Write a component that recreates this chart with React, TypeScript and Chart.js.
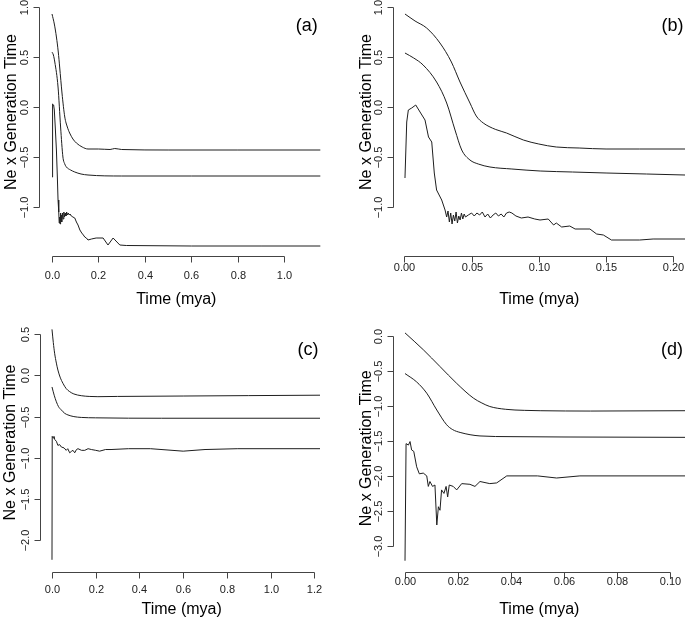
import React, { useEffect, useRef } from 'react';
import { Chart, registerables } from 'chart.js';

Chart.register(...registerables);

type Pt = [number, number];

// ---------- Panel (a) ----------
const aUpper: Pt[] = [
  [0, 0.93], [0.01, 0.83], [0.019, 0.70], [0.027, 0.55], [0.033, 0.40], [0.043, 0.14], [0.055, -0.10], [0.066, -0.20],
  [0.076, -0.26], [0.09, -0.32], [0.105, -0.36], [0.13, -0.40], [0.155, -0.42], [0.2, -0.42],
  [0.25, -0.425], [0.27, -0.415], [0.3, -0.425], [0.5, -0.43], [0.8, -0.43], [1.155, -0.43],
];
const aMiddle: Pt[] = [
  [0, 0.55], [0.006, 0.52], [0.012, 0.45], [0.026, 0.20], [0.037, -0.20], [0.047, -0.50], [0.055, -0.57],
  [0.062, -0.60], [0.08, -0.63], [0.098, -0.65], [0.125, -0.67], [0.155, -0.68], [0.3, -0.69],
  [0.6, -0.69], [1.155, -0.69],
];
const aLower: Pt[] = [
  [0, -0.70], [0.001, 0.0], [0.004, 0.03], [0.007, 0.02], [0.010, -0.03], [0.014, -0.20],
  [0.019, -0.43], [0.023, -0.70], [0.026, -0.93], [0.029, -1.05], [0.031, -1.16], [0.033, -1.10],
  [0.035, -1.17], [0.037, -1.06], [0.039, -1.14], [0.041, -1.08], [0.043, -1.15], [0.045, -1.06],
  [0.048, -1.12], [0.051, -1.05], [0.054, -1.10], [0.057, -1.06], [0.060, -1.09], [0.063, -1.05],
  [0.066, -1.08], [0.070, -1.06], [0.074, -1.08], [0.078, -1.07], [0.083, -1.09], [0.090, -1.10],
  [0.098, -1.11], [0.105, -1.15], [0.112, -1.18], [0.120, -1.23], [0.128, -1.26], [0.135, -1.28],
  [0.141, -1.30], [0.148, -1.31], [0.155, -1.33], [0.17, -1.32], [0.19, -1.31], [0.22, -1.31],
  [0.241, -1.38], [0.263, -1.31], [0.292, -1.38], [0.32, -1.385], [0.6, -1.39], [0.9, -1.39],
  [1.155, -1.39],
];
const aXTicks = [0, 0.2, 0.4, 0.6, 0.8, 1.0];
const aYTicks = [-1.0, -0.5, 0, 0.5, 1.0];

// ---------- Panel (b) ----------
const bUpper: Pt[] = [
  [0.0005, 0.93], [0.008, 0.86], [0.0166, 0.79], [0.0265, 0.64], [0.035, 0.45], [0.0414, 0.25],
  [0.0488, 0.04], [0.0535, -0.09], [0.0587, -0.16], [0.063, -0.195], [0.068, -0.225], [0.076, -0.26],
  [0.0885, -0.33], [0.1, -0.37], [0.113, -0.40], [0.13, -0.41], [0.15, -0.42], [0.175, -0.42], [0.2087, -0.42],
];
const bMiddle: Pt[] = [
  [0.0005, 0.54], [0.007, 0.49], [0.014, 0.42], [0.024, 0.25], [0.0315, 0.04], [0.0377, -0.23],
  [0.0427, -0.43], [0.0488, -0.53], [0.055, -0.57], [0.0637, -0.60], [0.08, -0.62], [0.101, -0.64],
  [0.125, -0.65], [0.15, -0.66], [0.18, -0.67], [0.2087, -0.68],
];
const bLower: Pt[] = [
  [0.0005, -0.71], [0.0018, -0.15], [0.003, -0.03], [0.0055, -0.01], [0.0085, 0.02], [0.0117, -0.05],
  [0.0154, -0.13], [0.018, -0.30], [0.0204, -0.35], [0.0223, -0.66], [0.024, -0.83], [0.0278, -0.93],
  [0.0303, -1.03], [0.0315, -1.10], [0.0325, -1.04], [0.0335, -1.15], [0.0345, -1.06], [0.0355, -1.17],
  [0.0365, -1.08], [0.0375, -1.14], [0.0385, -1.05], [0.0395, -1.16], [0.0405, -1.09], [0.0415, -1.13],
  [0.0425, -1.06], [0.0435, -1.12], [0.0445, -1.07], [0.0455, -1.10], [0.0476, -1.08], [0.050, -1.06],
  [0.052, -1.09], [0.054, -1.06], [0.056, -1.08], [0.058, -1.05], [0.060, -1.10], [0.062, -1.07],
  [0.064, -1.11], [0.066, -1.08], [0.068, -1.06], [0.070, -1.09], [0.072, -1.07], [0.074, -1.10],
  [0.076, -1.06], [0.078, -1.05], [0.080, -1.06], [0.083, -1.09], [0.087, -1.11], [0.092, -1.10],
  [0.097, -1.12], [0.1009, -1.13], [0.107, -1.12], [0.111, -1.18], [0.113, -1.16], [0.117, -1.20],
  [0.123, -1.19], [0.127, -1.22], [0.138, -1.22], [0.143, -1.27], [0.148, -1.28], [0.154, -1.33],
  [0.175, -1.33], [0.185, -1.32], [0.2087, -1.32],
];
const bXTicks = [0, 0.05, 0.1, 0.15, 0.2];
const bYTicks = [-1.0, -0.5, 0, 0.5, 1.0];

// ---------- Panel (c) ----------
const cUpper: Pt[] = [
  [0, 0.56], [0.006, 0.40], [0.012, 0.27], [0.02, 0.15], [0.027, 0.066], [0.037, -0.02],
  [0.05, -0.095], [0.065, -0.16], [0.081, -0.197], [0.1, -0.225], [0.134, -0.246], [0.17, -0.255],
  [0.21, -0.258], [0.3, -0.255], [0.6, -0.25], [0.9, -0.245], [1.226, -0.24],
];
const cMiddle: Pt[] = [
  [0, -0.14], [0.01, -0.24], [0.02, -0.32], [0.03, -0.38], [0.043, -0.42], [0.058, -0.46],
  [0.073, -0.48], [0.1, -0.50], [0.134, -0.51], [0.2, -0.515], [0.5, -0.52], [1.226, -0.52],
];
const cLower: Pt[] = [
  [0, -2.24], [0.001, -0.74], [0.005, -0.76], [0.009, -0.74], [0.013, -0.78], [0.02, -0.80],
  [0.027, -0.85], [0.035, -0.84], [0.043, -0.87], [0.055, -0.88], [0.065, -0.91], [0.072, -0.89],
  [0.081, -0.94], [0.09, -0.92], [0.096, -0.91], [0.104, -0.94], [0.112, -0.90], [0.119, -0.89],
  [0.135, -0.91], [0.15, -0.91], [0.165, -0.89], [0.18, -0.90], [0.2, -0.91], [0.218, -0.92],
  [0.245, -0.90], [0.27, -0.90], [0.35, -0.89], [0.45, -0.89], [0.6, -0.92], [0.7, -0.90],
  [0.85, -0.89], [1.226, -0.89],
];
const cXTicks = [0, 0.2, 0.4, 0.6, 0.8, 1.0, 1.2];
const cYTicks = [-2.0, -1.5, -1.0, -0.5, 0, 0.5];

// ---------- Panel (d) ----------
const dUpper: Pt[] = [
  [0, 0.04], [0.0069, -0.20], [0.0132, -0.44], [0.0195, -0.68], [0.0258, -0.89], [0.029, -0.96],
  [0.032, -1.01], [0.038, -1.05], [0.045, -1.065], [0.051, -1.07], [0.07, -1.075], [0.1057, -1.07],
];
const dMiddle: Pt[] = [
  [0, -0.54], [0.0044, -0.66], [0.0082, -0.82], [0.012, -1.06], [0.0157, -1.27], [0.018, -1.34],
  [0.0208, -1.38], [0.0283, -1.43], [0.04, -1.44], [0.06, -1.445], [0.1057, -1.45],
];
const dLower: Pt[] = [
  [0, -3.21], [0.0004, -1.54], [0.0013, -1.56], [0.0019, -1.51], [0.0025, -1.63], [0.0033, -1.65],
  [0.0044, -1.87], [0.0054, -1.97], [0.0069, -1.96], [0.0082, -2.00], [0.0088, -2.15], [0.0094, -2.08],
  [0.0104, -2.15], [0.0113, -2.13], [0.012, -2.70], [0.0126, -2.44], [0.0132, -2.49], [0.0138, -2.20],
  [0.0147, -2.25], [0.0155, -2.15], [0.0161, -2.30], [0.0167, -2.13], [0.0182, -2.15], [0.0195, -2.20],
  [0.0214, -2.11], [0.0245, -2.12], [0.0264, -2.15], [0.0283, -2.08], [0.032, -2.11], [0.0346, -2.10],
  [0.0384, -2.00], [0.05, -2.00], [0.0572, -2.03], [0.066, -2.00], [0.08, -2.00], [0.1057, -2.00],
];
const dXTicks = [0, 0.02, 0.04, 0.06, 0.08, 0.1];
const dYTicks = [-3.0, -2.5, -2.0, -1.5, -1.0, -0.5, 0];

const panelLabels = ['(a)', '(b)', '(c)', '(d)'];
const xTitle = 'Time (mya)';
const yTitle = 'Ne x Generation Time';

interface PanelSpec {
  label: string;
  series: Pt[][];
  xTicks: number[];
  yTicks: number[];
  xDec: number;
  xMin: number; xMax: number; yMin: number; yMax: number;
  left: number; top: number; w: number; h: number;
  pad: { left: number; right: number; top: number; bottom: number };
  yLabX: number; yTitleX: number; yTitleY: number;
  xLabY: number; xTitleX: number; xTitleY: number;
  tagX: number; tagY: number;
}

const FONT = '"Liberation Sans", Arial, Helvetica, sans-serif';

const panels: PanelSpec[] = [
  {
    label: panelLabels[0], series: [aUpper, aMiddle, aLower], xTicks: aXTicks, yTicks: aYTicks, xDec: 1,
    xMin: -0.05166, xMax: 1.201, yMin: -1.49, yMax: 1.02,
    left: 0, top: 0, w: 342, h: 310, pad: { left: 40, right: 11, top: 5, bottom: 54 },
    yLabX: 28, yTitleX: 15.5, yTitleY: 112, xLabY: 279, xTitleX: 176.3, xTitleY: 303.5, tagX: 306.7, tagY: 31,
  },
  {
    label: panelLabels[1], series: [bUpper, bMiddle, bLower], xTicks: bXTicks, yTicks: bYTicks, xDec: 2,
    xMin: -0.00766, xMax: 0.2087, yMin: -1.49, yMax: 1.02,
    left: 342, top: 0, w: 343, h: 310, pad: { left: 52, right: 0, top: 5, bottom: 54 },
    yLabX: 40, yTitleX: 29, yTitleY: 112, xLabY: 271, xTitleX: 197.3, xTitleY: 304, tagX: 330.5, tagY: 31,
  },
  {
    label: panelLabels[2], series: [cUpper, cMiddle, cLower], xTicks: cXTicks, yTicks: cYTicks, xDec: 1,
    xMin: -0.0503, xMax: 1.2763, yMin: -2.3846, yMax: 0.6373,
    left: 0, top: 310, w: 342, h: 309, pad: { left: 41, right: 11, top: 13, bottom: 47.3 },
    yLabX: 29, yTitleX: 15, yTitleY: 132.5, xLabY: 283, xTitleX: 181.7, xTitleY: 304, tagX: 308, tagY: 44.5,
  },
  {
    label: panelLabels[3], series: [dUpper, dMiddle, dLower], xTicks: dXTicks, yTicks: dYTicks, xDec: 2,
    xMin: -0.00404, xMax: 0.10566, yMin: -3.3666, yMax: 0.1812,
    left: 342, top: 310, w: 343, h: 309, pad: { left: 52.3, right: 0, top: 13, bottom: 47.3 },
    yLabX: 40.3, yTitleX: 29, yTitleY: 138.3, xLabY: 274.5, xTitleX: 197.3, xTitleY: 304, tagX: 330, tagY: 44.5,
  },
];

function fmt(v: number, dec: number) {
  const s = Math.abs(v).toFixed(dec);
  return v < -1e-9 ? '\u2212' + s : s;
}

function Panel({ spec }: { spec: PanelSpec }) {
  const ref = useRef<HTMLCanvasElement>(null);
  useEffect(() => {
    const canvas = ref.current;
    if (!canvas) return;
    const rAxes = {
      id: 'rAxes',
      afterDraw(chart: any) {
        const { ctx, chartArea } = chart;
        const xs = chart.scales.x;
        const ys = chart.scales.y;
        ctx.save();
        ctx.strokeStyle = '#444';
        ctx.lineWidth = 1;
        // x axis
        const yAx = Math.round(chartArea.bottom) + 0.5;
        const xp = spec.xTicks.map((v) => Math.round(xs.getPixelForValue(v)) + 0.5);
        ctx.beginPath();
        ctx.moveTo(xp[0], yAx);
        ctx.lineTo(xp[xp.length - 1], yAx);
        xp.forEach((p) => { ctx.moveTo(p, yAx); ctx.lineTo(p, yAx + 6); });
        // y axis
        const xAx = Math.round(chartArea.left) - 0.5;
        const yp = spec.yTicks.map((v) => Math.round(ys.getPixelForValue(v)) + 0.5);
        ctx.moveTo(xAx, yp[0]);
        ctx.lineTo(xAx, yp[yp.length - 1]);
        yp.forEach((p) => { ctx.moveTo(xAx, p); ctx.lineTo(xAx - 6, p); });
        ctx.stroke();

        ctx.fillStyle = '#222';
        ctx.font = `11px ${FONT}`;
        ctx.textAlign = 'center';
        ctx.textBaseline = 'alphabetic';
        spec.xTicks.forEach((v, i) => ctx.fillText(fmt(v, spec.xDec), xp[i], spec.xLabY));
        spec.yTicks.forEach((v, i) => {
          ctx.save();
          ctx.translate(spec.yLabX, yp[i]);
          ctx.rotate(-Math.PI / 2);
          ctx.fillText(fmt(v, 1), 0, 0);
          ctx.restore();
        });

        ctx.fillStyle = '#000';
        ctx.font = `16px ${FONT}`;
        ctx.fillText(xTitle, spec.xTitleX, spec.xTitleY);
        ctx.save();
        ctx.translate(spec.yTitleX, spec.yTitleY);
        ctx.rotate(-Math.PI / 2);
        ctx.fillText(yTitle, 0, 0);
        ctx.restore();

        ctx.font = `18px ${FONT}`;
        ctx.fillText(spec.label, spec.tagX, spec.tagY);
        ctx.restore();
      },
    };
    const chart = new Chart(canvas, {
      type: 'line',
      data: {
        datasets: spec.series.map((s, i) => ({
          data: s.map(([x, y]) => ({ x, y })),
          borderColor: '#1e1e1e',
          borderWidth: 1,
          pointRadius: 0,
          tension: 0,
          cubicInterpolationMode: i < 2 ? 'monotone' : 'default',
          fill: false,
        })),
      },
      options: {
        animation: false,
        responsive: false,
        devicePixelRatio: 1,
        parsing: false as any,
        layout: { padding: spec.pad },
        plugins: { legend: { display: false }, tooltip: { enabled: false } },
        events: [],
        scales: {
          x: { type: 'linear', display: false, min: spec.xMin, max: spec.xMax },
          y: { type: 'linear', display: false, min: spec.yMin, max: spec.yMax },
        },
      },
      plugins: [rAxes],
    } as any);
    return () => chart.destroy();
  }, [spec]);
  return (
    <canvas
      ref={ref}
      width={spec.w}
      height={spec.h}
      style={{ position: 'absolute', left: spec.left, top: spec.top, width: spec.w, height: spec.h }}
    />
  );
}

export default function App() {
  return (
    <div style={{ position: 'fixed', left: 0, top: 0, width: 685, height: 619, background: '#fff', overflow: 'hidden' }}>
      {panels.map((p) => (
        <Panel key={p.label} spec={p} />
      ))}
    </div>
  );
}
